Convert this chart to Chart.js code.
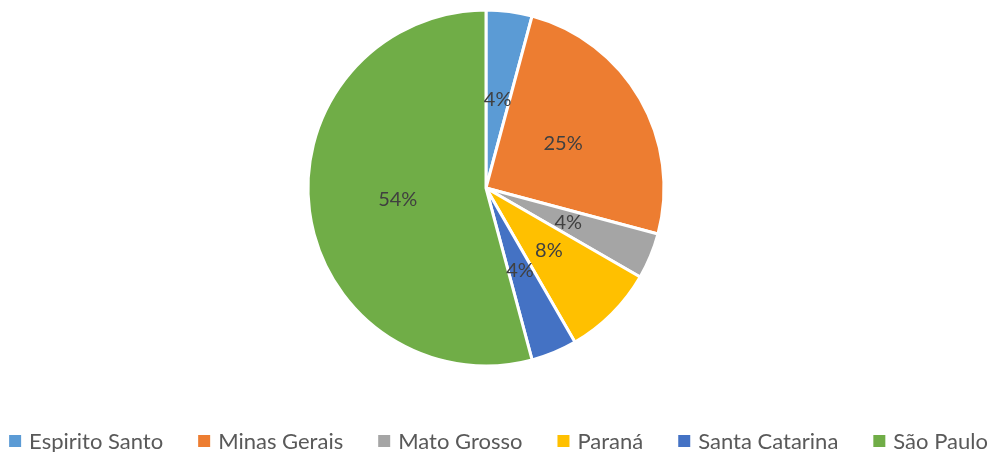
<!DOCTYPE html>
<html>
<head>
<meta charset="utf-8">
<script src="https://cdn.jsdelivr.net/npm/chart.js@4.4.1/dist/chart.umd.min.js"></script>
<style>
  html, body { margin: 0; padding: 0; background: #ffffff; }
  #chartContainer { width: 997px; height: 452px; }
</style>
</head>
<body>
<div id="chartContainer"><canvas id="myChart" width="997" height="452"></canvas></div>
<script>
// Producing states and their share of the total.
var states = ["Espirito Santo", "Minas Gerais", "Mato Grosso", "Paraná", "Santa Catarina", "São Paulo"];
var counts = [1, 6, 1, 2, 1, 13];
var sliceColors = ["#5b9bd5", "#ed7d31", "#a5a5a5", "#ffc000", "#4472c4", "#70ad47"];

var fontFamily = "Lato, 'Open Sans', sans-serif";

// Writes the percentage of each slice halfway along its radius.
var percentLabels = {
  id: "percentLabels",
  afterDatasetsDraw: function(chart) {
    var ctx = chart.ctx;
    var data = chart.data.datasets[0].data;
    var total = data.reduce(function(a, b) { return a + b; }, 0);
    var arcs = chart.getDatasetMeta(0).data;
    ctx.save();
    ctx.font = "20px " + fontFamily;
    ctx.fillStyle = "#404040";
    ctx.textAlign = "center";
    ctx.textBaseline = "middle";
    for (let i = 0; i < arcs.length; i++) {
      const pos = arcs[i].tooltipPosition();
      ctx.fillText(Math.round(data[i] / total * 100) + "%", pos.x, pos.y);
    }
    ctx.restore();
  }
};

// Single-row legend under the pie, centred on the canvas.
var bottomLegend = {
  id: "bottomLegend",
  afterDraw: function(chart) {
    var ctx = chart.ctx;
    var box = 12, textGap = 8, itemGap = 35;
    var y = 441;
    ctx.save();
    ctx.font = "22px " + fontFamily;
    ctx.textBaseline = "middle";
    var widths = chart.data.labels.map(function(t) { return ctx.measureText(t).width; });
    var total = 0;
    for (let i = 0; i < widths.length; i++) {
      total += box + textGap + widths[i] + (i > 0 ? itemGap : 0);
    }
    var x = (chart.width - total) / 2;
    for (let i = 0; i < widths.length; i++) {
      ctx.fillStyle = sliceColors[i];
      ctx.fillRect(x, y - box / 2, box, box);
      ctx.fillStyle = "#595959";
      ctx.fillText(chart.data.labels[i], x + box + textGap, y + 1);
      x += box + textGap + widths[i] + itemGap;
    }
    ctx.restore();
  }
};

function loadChart() {
  var ctx = document.getElementById("myChart");
  myChart = new Chart(ctx, {
    type: "pie",
    data: {
      labels: states,
      datasets: [
        {
          data: counts,
          backgroundColor: sliceColors,
          borderColor: "#ffffff",
          borderWidth: 3
        }
      ]
    },
    options: {
      responsive: false,
      animation: false,
      radius: 178,
      layout: {
        padding: { top: 0, left: 0, right: 25, bottom: 76 }
      },
      plugins: {
        legend: { display: false },
        tooltip: { enabled: false }
      }
    },
    plugins: [percentLabels, bottomLegend]
  });
}

loadChart();
</script>
</body>
</html>
